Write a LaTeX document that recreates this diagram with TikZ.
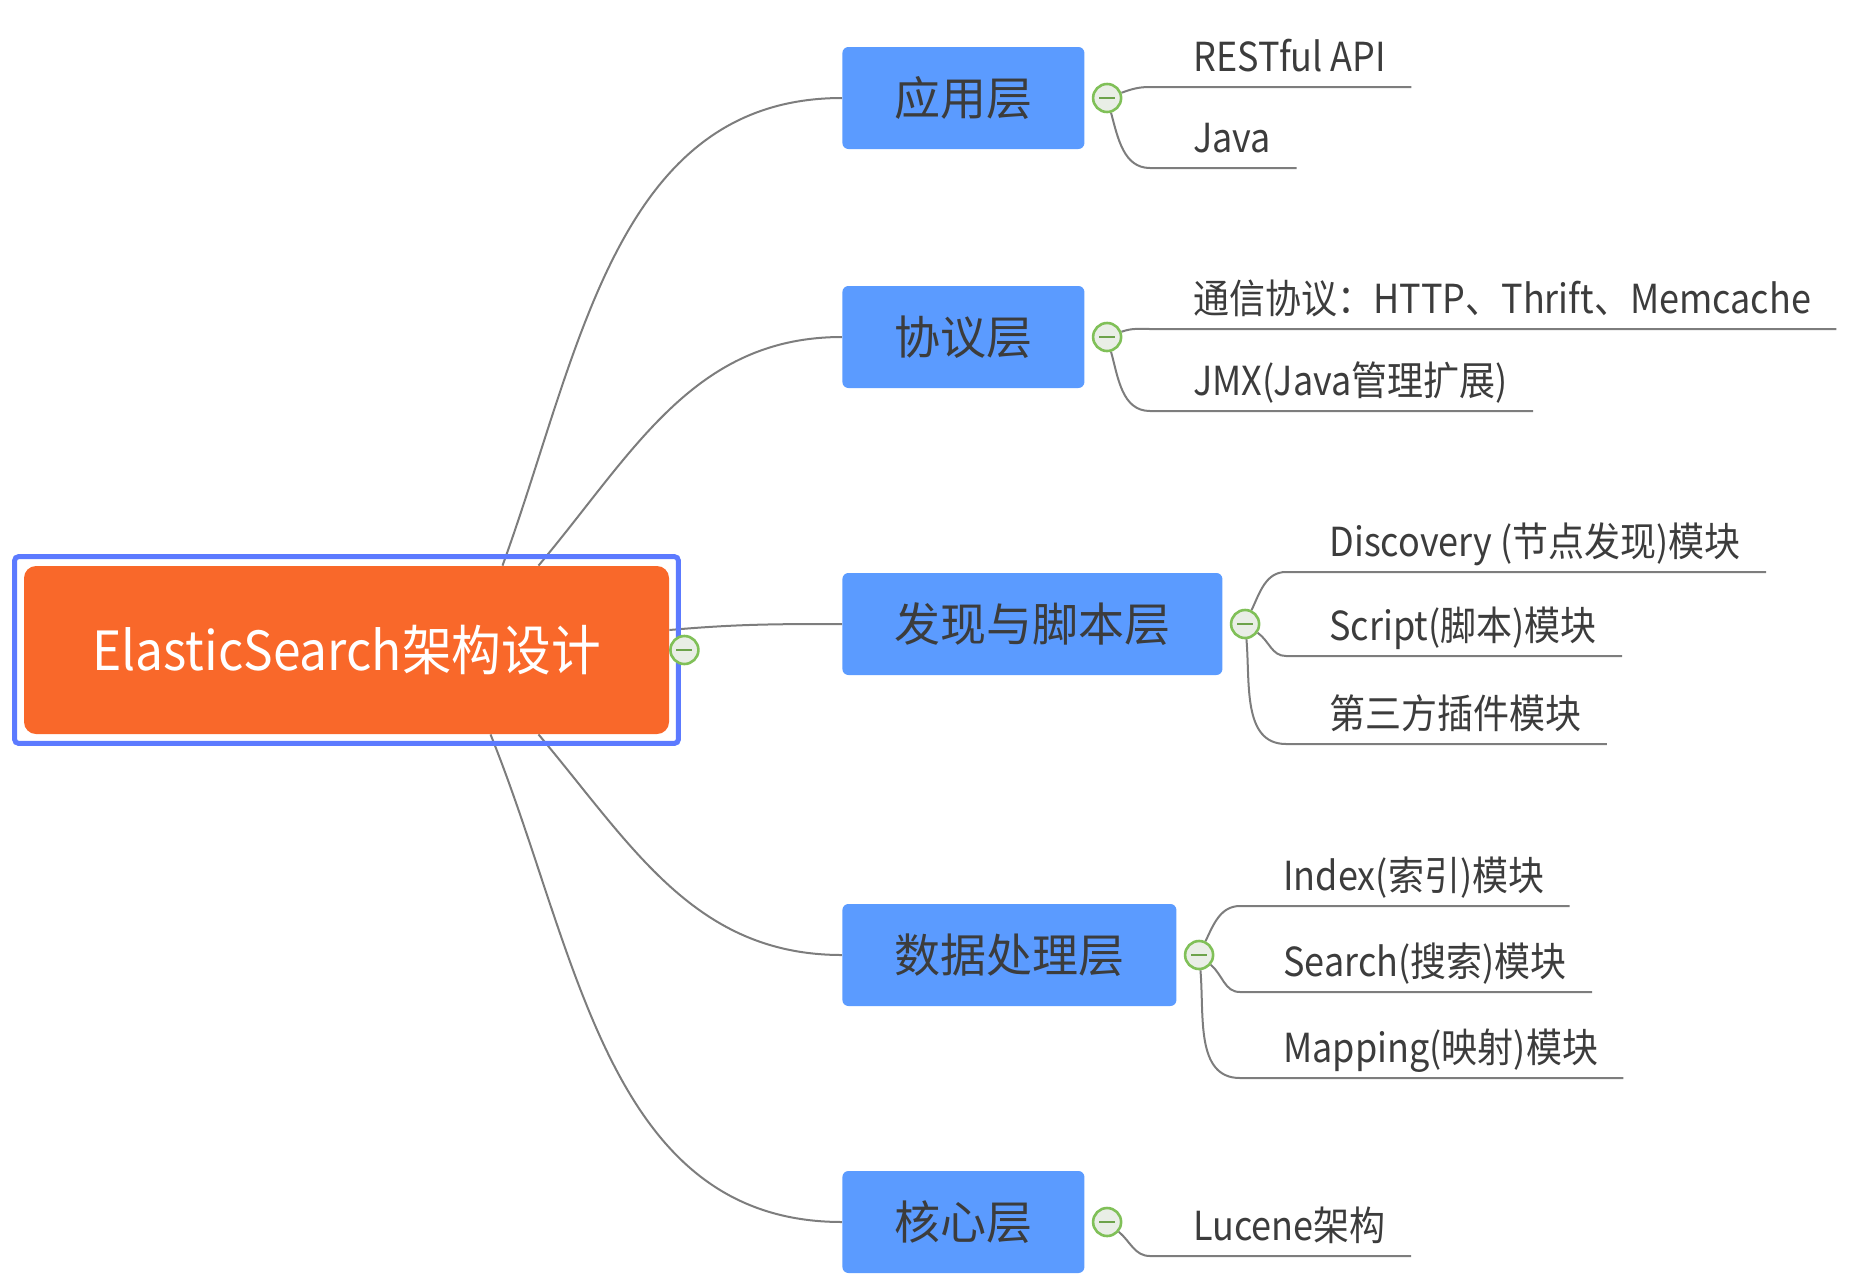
\documentclass[tikz,border=0pt]{standalone}
\usepackage{fontspec}
\setmainfont{Noto Sans CJK SC}
\newfontfamily\leaffont{Noto Sans CJK SC}[FakeStretch=0.9]
\newfontfamily\rootfont{Noto Sans CJK SC}[FakeStretch=0.92]
\usepackage{tikz}
\usetikzlibrary{positioning, backgrounds, fit, calc}
\definecolor{rootorange}{RGB}{249,104,42}
\definecolor{frameblue}{RGB}{92,122,255}
\definecolor{boxblue}{RGB}{91,155,255}
\definecolor{linkgrey}{RGB}{125,125,125}
\definecolor{foldgreen}{RGB}{128,192,88}
\definecolor{foldfill}{RGB}{233,238,230}
\definecolor{textgrey}{RGB}{60,60,60}
\tikzset{%
	root/.style={rectangle, rounded corners=6pt, fill=rootorange, text=white,%
		minimum width=322.5pt, minimum height=84pt, font=\rootfont\fontsize{27pt}{27pt}\selectfont},
	rootframe/.style={draw=frameblue, line width=2.5pt, rounded corners=2pt, inner sep=4.5pt},
	layerbox/.style={rectangle, rounded corners=3pt, fill=boxblue, text=textgrey,%
		inner xsep=26pt, minimum height=51pt, anchor=west, font=\fontsize{23pt}{23pt}\selectfont},
	fold/.style={circle, draw=foldgreen, fill=foldfill, line width=1.3pt, minimum size=14pt, inner sep=0pt,%
		path picture={\draw[foldgreen!85!black, line width=1.4pt] ([xshift=-4pt]path picture bounding box.center) -- ([xshift=4pt]path picture bounding box.center);}},
	leaf/.style={anchor=south west, inner xsep=12.5pt, inner ysep=0pt, text height=15pt, text depth=7.5pt,%
		text=textgrey, font=\leaffont\fontsize{20pt}{20pt}\selectfont},
	link/.style={draw=linkgrey, line width=1pt}
}
\begin{document}
\begin{tikzpicture}[x=0.5pt, y=0.5pt]
	\useasboundingbox (0,0) rectangle (1852,-1280);
	\node[root] (root) at (346.5,-650) {ElasticSearch架构设计};
	\node[rootframe, fit=(root)] (frame) {};
	\node[fold] (c0) at ([xshift=7.5pt]root.east) {};

	\node[layerbox] (ying) at (842,-98) {应用层};
	\node[layerbox] (xieyi) at (842,-337) {协议层};
	\node[layerbox] (faxian) at (842,-624) {发现与脚本层};
	\node[layerbox] (shuju) at (842,-955) {数据处理层};
	\node[layerbox] (hexin) at (842,-1222) {核心层};
	\node[fold, right=3.5pt of ying] (c1) {};
	\node[fold, right=3.5pt of xieyi] (c2) {};
	\node[fold, right=3.5pt of faxian] (c3) {};
	\node[fold, right=3.5pt of shuju] (c4) {};
	\node[fold, right=3.5pt of hexin] (c5) {};

	\node[leaf] (rest) at (1168,-87) {RESTful API};
	\node[leaf] (java) at (1168,-168) {Java};
	\node[leaf] (http) at (1168,-329) {通信协议：HTTP、Thrift、Memcache};
	\node[leaf] (jmx) at (1168,-411) {JMX(Java管理扩展)};
	\node[leaf] (disc) at (1304,-572) {Discovery (节点发现)模块};
	\node[leaf] (script) at (1304,-656) {Script(脚本)模块};
	\node[leaf] (plugin) at (1304,-744) {第三方插件模块};
	\node[leaf] (index) at (1258,-906) {Index(索引)模块};
	\node[leaf] (search) at (1258,-992) {Search(搜索)模块};
	\node[leaf] (mapping) at (1258,-1078) {Mapping(映射)模块};
	\node[leaf] (lucene) at (1168,-1256) {Lucene架构};

	\begin{scope}[on background layer]
		\draw[link] ([xshift=78pt]root.north) to[out=70, in=180] (ying);
		\draw[link] ([xshift=96pt]root.north) to[out=50, in=180] (xieyi);
		\draw[link] ([yshift=10pt]root.east) to[out=5, in=180] (faxian);
		\draw[link] ([xshift=96pt]root.south) to[out=-50, in=180] (shuju);
		\draw[link] ([xshift=72pt]root.south) to[out=-68, in=180] (hexin);

		\draw[link] (c1) to[out=20, in=180] ([xshift=-9pt]rest.south west) -- (rest.south east);
		\draw[link] (c1) to[out=-75, in=180] ([xshift=-9pt]java.south west) -- (java.south east);
		\draw[link] (c2) to[out=20, in=180] ([xshift=-9pt]http.south west) -- (http.south east);
		\draw[link] (c2) to[out=-75, in=180] ([xshift=-9pt]jmx.south west) -- (jmx.south east);
		\draw[link] (c3) to[out=65, in=180] ([xshift=-9pt]disc.south west) -- (disc.south east);
		\draw[link] (c3) to[out=-35, in=180] ([xshift=-9pt]script.south west) -- (script.south east);
		\draw[link] (c3) to[out=-85, in=180] ([xshift=-9pt]plugin.south west) -- (plugin.south east);
		\draw[link] (c4) to[out=65, in=180] ([xshift=-9pt]index.south west) -- (index.south east);
		\draw[link] (c4) to[out=-40, in=180] ([xshift=-9pt]search.south west) -- (search.south east);
		\draw[link] (c4) to[out=-85, in=180] ([xshift=-9pt]mapping.south west) -- (mapping.south east);
		\draw[link] (c5) to[out=-40, in=180] ([xshift=-9pt]lucene.south west) -- (lucene.south east);
	\end{scope}
\end{tikzpicture}
\end{document}
